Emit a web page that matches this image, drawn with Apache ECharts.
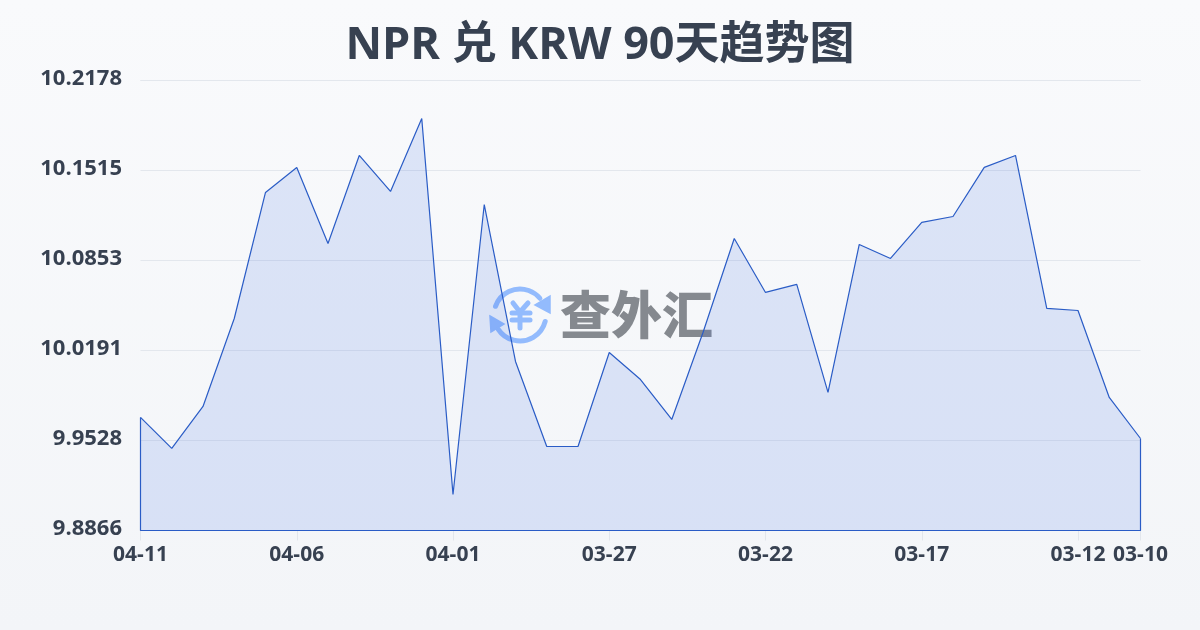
<!DOCTYPE html>
<html><head><meta charset="utf-8">
<style>html,body{margin:0;padding:0;background:#f6f8fa}#c{width:1200px;height:630px}</style>
<script src="https://cdn.jsdelivr.net/npm/echarts@6/dist/echarts.min.js"></script>
</head><body><div id="c"></div>
<script>
const dates = ['04-11','04-10','04-09','04-08','04-07','04-06','04-05','04-04','04-03','04-02','04-01','03-31','03-30','03-29','03-28','03-27','03-26','03-25','03-24','03-23','03-22','03-21','03-20','03-19','03-18','03-17','03-16','03-15','03-14','03-13','03-12','03-11','03-10'];
const rates = [9.9698,9.9470,9.9779,10.0426,10.1354,10.1538,10.0978,10.1626,10.1361,10.1898,9.9131,10.1265,10.0110,9.9484,9.9484,10.0176,9.9977,9.9683,10.0323,10.1015,10.0618,10.0677,9.9882,10.0971,10.0868,10.1133,10.1177,10.1538,10.1626,10.0500,10.0485,9.9845,9.9543];
const shownDates = ['04-11','04-06','04-01','03-27','03-22','03-17','03-12','03-10'];
const axisMin = 9.8866, axisMax = 10.21776;
const titleText = 'NPR 兑 KRW 90天趋势图';
const brandText = '查外汇';
const lineColor = '#2a5cc6';
const textColor = '#374151';
const closing = [[dates[0],rates[0]],[dates[0],axisMin],[dates[dates.length-1],axisMin],[dates[dates.length-1],rates[rates.length-1]]];
const latin = '"Open Sans","Noto Sans","Noto Sans CJK SC",sans-serif';
const iconBlue = '#93bbfd';
const iconLine = (x1,y1,x2,y2)=>({type:'line',z:1,shape:{x1,y1,x2,y2},style:{stroke:iconBlue,lineWidth:5,lineCap:'round'}});
const chart = echarts.init(document.getElementById('c'), null, {renderer:'canvas'});
chart.setOption({
  animation:false,
  backgroundColor:new echarts.graphic.LinearGradient(0,0,0,1,[{offset:0,color:'#f9fafc'},{offset:1,color:'#f3f5f8'}]),
  title:{text:titleText,left:'center',top:19,textStyle:{fontFamily:latin,fontSize:45,fontWeight:'bold',color:textColor}},
  grid:{left:140.5,right:59.5,top:80.5,bottom:99.5,containLabel:false},
  xAxis:{type:'category',data:dates,boundaryGap:false,
    axisLine:{show:false},
    axisTick:{show:true,length:10,lineStyle:{color:'#e2e6ec'},interval:(i,v)=>shownDates.includes(v)},
    axisLabel:{interval:(i,v)=>shownDates.includes(v),color:textColor,fontFamily:latin,fontWeight:'bold',fontSize:21,margin:14,hideOverlap:false},
    splitLine:{show:false}},
  yAxis:{type:'value',min:axisMin,max:axisMax,interval:(axisMax-axisMin)/5,
    axisLine:{show:false},axisTick:{show:false},
    axisLabel:{color:textColor,fontFamily:latin,fontWeight:'bold',fontSize:22,margin:18.5,verticalAlign:'bottom',lineHeight:4,formatter:v=>v.toFixed(4)},
    splitLine:{show:true,lineStyle:{color:'#e3e7ed',width:1}}},
  series:[
    {type:'line',data:rates,symbol:'none',smooth:false,z:3,
      lineStyle:{color:lineColor,width:1.2},
      areaStyle:{opacity:1,origin:'start',color:'rgba(59,110,230,0.15)'}},
    {type:'line',data:closing,symbol:'none',z:3,lineStyle:{color:lineColor,width:1.2},silent:true}
  ],
  graphic:{elements:[
    {type:'arc',z:1,shape:{cx:520,cy:315,r:26,startAngle:-2.8,endAngle:-0.7,clockwise:true},style:{stroke:iconBlue,lineWidth:5,fill:null,lineCap:'round'}},
    {type:'arc',z:1,shape:{cx:520,cy:315,r:26,startAngle:0.25,endAngle:2.56,clockwise:true},style:{stroke:iconBlue,lineWidth:5,fill:null,lineCap:'round'}},
    {type:'polygon',z:1,shape:{points:[[550,296],[550,313],[535,305]]},style:{fill:iconBlue,stroke:iconBlue,lineWidth:1.5}},
    {type:'polygon',z:1,shape:{points:[[490,316],[504,324],[491,332]]},style:{fill:iconBlue,stroke:iconBlue,lineWidth:1.5}},
    iconLine(513,303,520,312),iconLine(528,303,520,312),iconLine(512,313,530,313),iconLine(512,320,530,320),iconLine(520,312,520,328),
    {type:'text',z:1,style:{text:brandText,x:560,y:315,align:'left',verticalAlign:'middle',font:'900 51px "Noto Sans CJK SC",sans-serif',fill:'#85898f'}}
  ]}
});
</script></body></html>
